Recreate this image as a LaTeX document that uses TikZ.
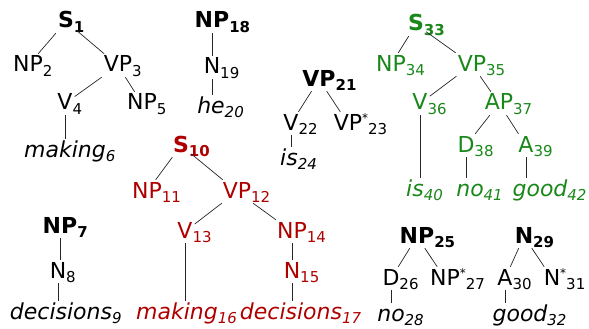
\documentclass[tikz,border=0pt]{standalone}
\usepackage{fontspec}
\setmainfont{DejaVu Sans}
\definecolor{tred}{RGB}{175,0,0}
\definecolor{tgreen}{RGB}{25,135,25}
\newcommand{\subx}[1]{\rlap{\smash{\raisebox{-4.5pt}{\fontsize{15}{15}\selectfont #1}}}}
\newcommand{\starsub}[1]{\rlap{\smash{\raisebox{8pt}{\fontsize{12}{12}\selectfont *}\raisebox{-4.5pt}{\fontsize{15}{15}\selectfont #1}}}}
\tikzset{
  lab/.style={anchor=base, inner sep=2pt, text height=16pt, text depth=3pt, font=\fontsize{22}{26}\selectfont},
  wd/.style={lab, font=\fontsize{22}{26}\selectfont\itshape},
  hd/.style={lab, font=\fontsize{22}{26}\selectfont\bfseries},
  rd/.style={text=tred},
  gr/.style={text=tgreen},
  edge/.style={draw=black!85, line width=0.7pt},
}
\begin{document}
\begin{tikzpicture}[x=1pt, y=-1pt]
\useasboundingbox (0,0) rectangle (589,329);
% tree S1
\node[hd] (s1) at (66,28) {S\subx{1}};
\node[lab] (np2) at (28,72) {NP\subx{2}};
\node[lab] (vp3) at (118,72) {VP\subx{3}};
\node[lab] (v4) at (65,110) {V\subx{4}};
\node[lab] (np5) at (142,110) {NP\subx{5}};
\node[wd] (w6) at (65,157) {making\subx{6}};
% tree NP18
\node[hd] (np18) at (212,28) {NP\subx{18}};
\node[lab] (n19) at (212,74) {N\subx{19}};
\node[wd] (w20) at (211,113) {he\subx{20}};
% tree VP21
\node[hd] (vp21) at (319,86) {VP\subx{21}};
\node[lab] (v22) at (291,130) {V\subx{22}};
\node[lab] (vp23) at (348,130) {VP\starsub{23}};
\node[wd] (w24) at (289,165) {is\subx{24}};
% tree S33
\node[hd,gr] (s33) at (416,31) {S\subx{33}};
\node[lab,gr] (np34) at (391,71) {NP\subx{34}};
\node[lab,gr] (vp35) at (472,71) {VP\subx{35}};
\node[lab,gr] (v36) at (420,110) {V\subx{36}};
\node[lab,gr] (ap37) at (499,110) {AP\subx{37}};
\node[lab,gr] (d38) at (466,152) {D\subx{38}};
\node[lab,gr] (a39) at (526,152) {A\subx{39}};
\node[wd,gr] (w40) at (415,196) {is\subx{40}};
\node[wd,gr] (w41) at (470,196) {no\subx{41}};
\node[wd,gr] (w42) at (540,196) {good\subx{42}};
% tree S10
\node[hd,rd] (s10) at (181,152) {S\subx{10}};
\node[lab,rd] (np11) at (147,198) {NP\subx{11}};
\node[lab,rd] (vp12) at (237,198) {VP\subx{12}};
\node[lab,rd] (v13) at (185,238) {V\subx{13}};
\node[lab,rd] (np14) at (292,238) {NP\subx{14}};
\node[lab,rd] (n15) at (292,278) {N\subx{15}};
\node[wd,rd] (w16) at (177,319) {making\subx{16}};
\node[wd,rd] (w17) at (291,319) {decisions\subx{17}};
% tree NP7
\node[hd] (np7) at (60,233) {NP\subx{7}};
\node[lab] (n8) at (58,278) {N\subx{8}};
\node[wd] (w9) at (61,319) {decisions\subx{9}};
% tree NP25
\node[hd] (np25) at (417,243) {NP\subx{25}};
\node[lab] (d26) at (391,285) {D\subx{26}};
\node[lab] (np27) at (445,285) {NP\starsub{27}};
\node[wd] (w28) at (391,321) {no\subx{28}};
% tree N29
\node[hd] (n29) at (524,243) {N\subx{29}};
\node[lab] (a30) at (505,285) {A\subx{30}};
\node[lab] (n31) at (552,285) {N\starsub{31}};
\node[wd] (w32) at (520,321) {good\subx{32}};
% slanted edges
\foreach \a/\b in {s1/np2, s1/vp3, vp3/v4, vp3/np5, vp21/v22, vp21/vp23,
  s33/np34, s33/vp35, vp35/v36, vp35/ap37, ap37/d38, ap37/a39,
  s10/np11, s10/vp12, vp12/v13, vp12/np14, np25/d26, np25/np27, n29/a30, n29/n31}
  \draw[edge] (\a) -- (\b);
% vertical edges
\foreach \a/\b in {v4/w6, np18/n19, n19/w20, v22/w24, v36/w40, d38/w41, a39/w42,
  v13/w16, np14/n15, n15/w17, np7/n8, n8/w9, d26/w28, a30/w32}
  \draw[edge] (\a.south) -- (\a.south |- \b.north);
\end{tikzpicture}
\end{document}
